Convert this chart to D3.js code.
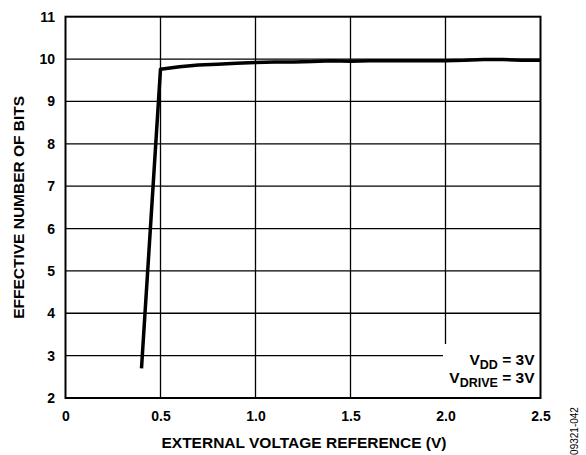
<!DOCTYPE html>
<html>
<head>
<meta charset="utf-8">
<script src="https://cdn.jsdelivr.net/npm/d3@7"></script>
<style>
  html, body { margin: 0; padding: 0; background: #fff; }
  svg { display: block; }
  text { font-family: Arial, "Liberation Sans", sans-serif; fill: #000; }
</style>
</head>
<body>
<svg id="chart" width="586" height="455"></svg>
<script>
// ENOB versus external reference voltage, VDD = VDRIVE = 3V
const refVoltage = [0.4, 0.5, 0.6, 0.7, 0.8, 0.9, 1.0, 1.1, 1.2, 1.3, 1.4, 1.5, 1.6, 1.7, 1.8, 1.9, 2.0, 2.1, 2.2, 2.3, 2.4, 2.5];
const enob = [2.7, 9.76, 9.82, 9.86, 9.88, 9.90, 9.92, 9.93, 9.93, 9.94, 9.96, 9.95, 9.96, 9.96, 9.96, 9.96, 9.96, 9.97, 9.99, 9.99, 9.97, 9.97];
const xTicks = [0, 0.5, 1.0, 1.5, 2.0, 2.5];
const xTickLabels = ["0", "0.5", "1.0", "1.5", "2.0", "2.5"];
const yTicks = [2, 3, 4, 5, 6, 7, 8, 9, 10, 11];

const svg = d3.select("#chart");
const plotL = 65.5, plotR = 540.5, plotT = 16.7, plotB = 398;
const fontFam = "Arial, 'Liberation Sans', sans-serif";

const x = d3.scaleLinear().domain([0, 2.5]).range([plotL, plotR]);
const y = d3.scaleLinear().domain([2, 11]).range([plotB, plotT]);

// grid
const grid = svg.append("g").attr("stroke", "#000").attr("stroke-width", 1.3);
grid.selectAll(".vg").data(xTicks.slice(1, -1)).join("line")
  .attr("x1", d => x(d)).attr("x2", d => x(d))
  .attr("y1", plotT).attr("y2", plotB);
grid.selectAll(".hg").data(yTicks.slice(1, -1)).join("line")
  .attr("x1", plotL).attr("x2", plotR)
  .attr("y1", d => y(d)).attr("y2", d => y(d));

// legend backdrop hides grid behind the annotation
svg.append("rect")
  .attr("x", 443).attr("y", 344)
  .attr("width", plotR - 443).attr("height", plotB - 344)
  .attr("fill", "#fff");

// frame
svg.append("rect")
  .attr("x", plotL).attr("y", plotT)
  .attr("width", plotR - plotL).attr("height", plotB - plotT)
  .attr("fill", "none").attr("stroke", "#000").attr("stroke-width", 2);

// data line
const line = d3.line().x((d, i) => x(refVoltage[i])).y(d => y(d));
svg.append("path")
  .datum(enob)
  .attr("d", line)
  .attr("fill", "none")
  .attr("stroke", "#000")
  .attr("stroke-width", 3.5)
  .attr("stroke-linejoin", "round");

// axes (labels only, frame drawn above)
const xAxis = d3.axisBottom(x).tickValues(xTicks)
  .tickFormat((d, i) => xTickLabels[i]).tickSize(0).tickPadding(13);
const gx = svg.append("g").attr("transform", `translate(0,${plotB})`).call(xAxis);
gx.select(".domain").remove();
gx.selectAll("text").attr("font-size", 14).attr("font-weight", "bold")
  .attr("font-family", fontFam).attr("fill", "#000");

const yAxis = d3.axisLeft(y).tickValues(yTicks).tickSize(0).tickPadding(10.5);
const gy = svg.append("g").attr("transform", `translate(${plotL},0)`).call(yAxis);
gy.select(".domain").remove();
gy.selectAll("text").attr("font-size", 14).attr("font-weight", "bold")
  .attr("font-family", fontFam).attr("fill", "#000");

// axis titles
svg.append("text")
  .attr("x", 304).attr("y", 448)
  .attr("text-anchor", "middle")
  .attr("font-size", 15.5).attr("font-weight", "bold")
  .text("EXTERNAL VOLTAGE REFERENCE (V)");

svg.append("text")
  .attr("transform", `translate(24,${(plotT + plotB) / 2}) rotate(-90)`)
  .attr("text-anchor", "middle")
  .attr("font-size", 15.5).attr("font-weight", "bold")
  .text("EFFECTIVE NUMBER OF BITS");

// conditions annotation
const ann = [["DD", 365], ["DRIVE", 382.7]];
ann.forEach(([sub, yy]) => {
  const t = svg.append("text")
    .attr("x", 534.5).attr("y", yy)
    .attr("text-anchor", "end")
    .attr("font-size", 15.5).attr("font-weight", "bold");
  t.append("tspan").text("V");
  t.append("tspan").attr("font-size", 12.5).attr("dy", 4.3).text(sub);
  t.append("tspan").attr("dy", -4.3).text(" = 3V");
});

// figure code
svg.append("text")
  .attr("transform", "translate(578,431) rotate(-90)")
  .attr("text-anchor", "middle")
  .attr("font-size", 10)
  .attr("fill", "#333")
  .text("09321-042");
</script>
</body>
</html>
